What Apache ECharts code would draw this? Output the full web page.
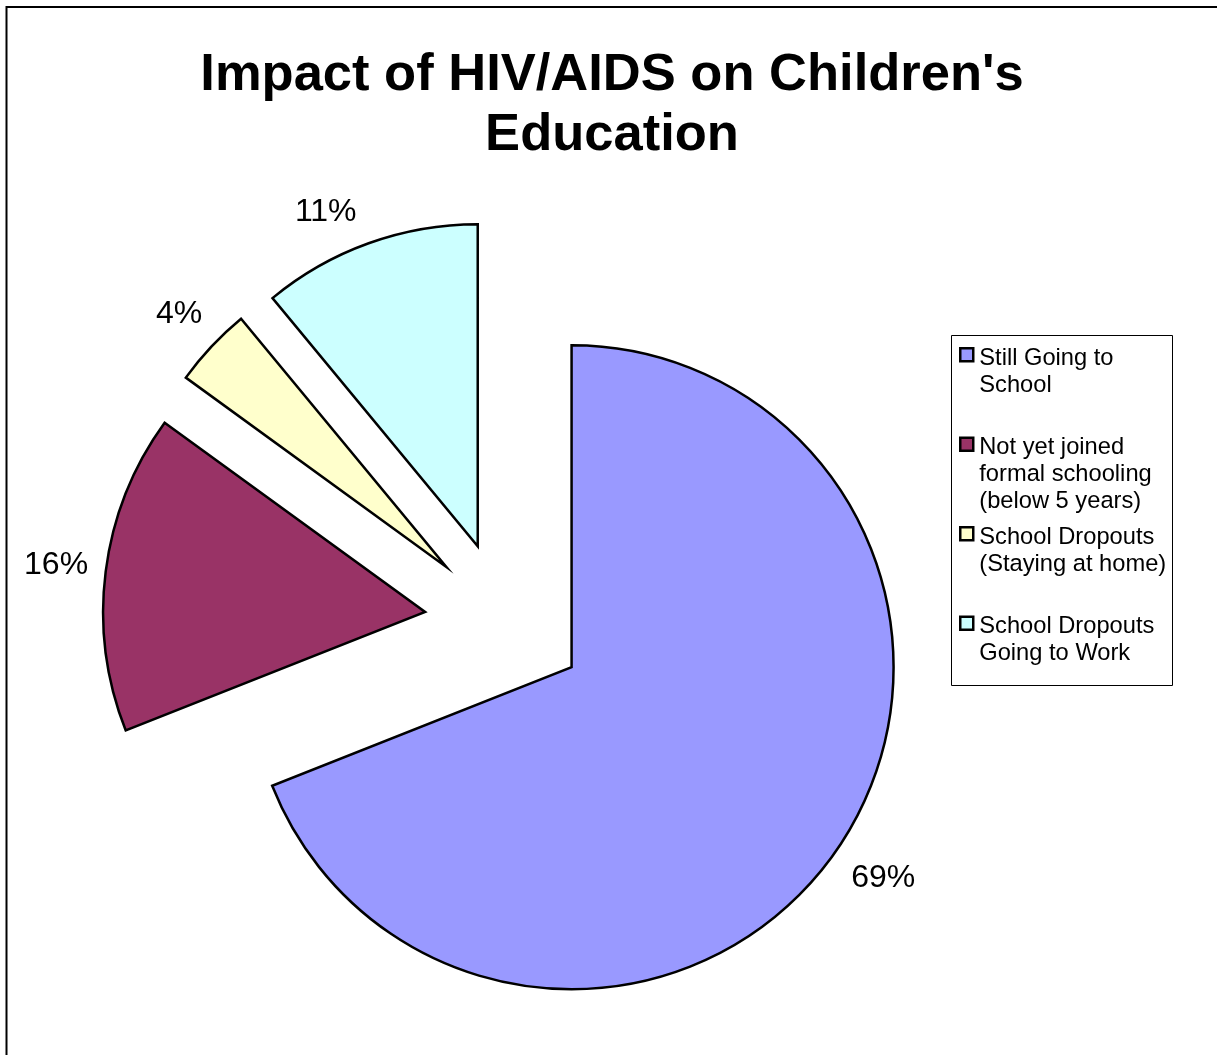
<!DOCTYPE html>
<html>
<head>
<meta charset="utf-8">
<script src="https://cdn.jsdelivr.net/npm/echarts@6/dist/echarts.min.js"></script>
<style>
html,body{margin:0;padding:0;background:#fff;}
#chart{width:1217px;height:1055px;}
</style>
</head>
<body>
<div id="chart"></div>
<script>
const titleText = "Impact of HIV/AIDS on Children's\nEducation";
const categories = [
  'Still Going to School',
  'Not yet joined formal schooling (below 5 years)',
  'School Dropouts (Staying at home)',
  'School Dropouts Going to Work'
];
const legendLabels = [
  'Still Going to\nSchool\n ',
  'Not yet joined\nformal schooling\n(below 5 years)',
  'School Dropouts\n(Staying at home)\n ',
  'School Dropouts\nGoing to Work\n '
];
const values = [69, 16, 4, 11];
const colors = ['#9999FF', '#993366', '#FFFFCC', '#CCFFFF'];

// small label nudges (styling only) to mimic the original label placement
const labelNudge = {0: [4, 2], 2: [4, 2], 3: [-26, 16]};

const FONT = '"Liberation Sans", Arial, sans-serif';
const chart = echarts.init(document.getElementById('chart'), null, {renderer: 'canvas'});

const pieData = categories.map((name, i) => ({
  name: name,
  value: values[i],
  selected: true,
  itemStyle: {color: colors[i]}
}));

const legendIcon = 'path://M0,0M16,81M2,3.5L15,3.5L15,16.5L2,16.5Z';

const option = {
  backgroundColor: '#fff',
  animation: false,
  title: {
    text: titleText,
    left: 612,
    top: 45,
    padding: 0,
    textAlign: 'center',
    textStyle: {fontFamily: FONT, fontSize: 52.5, fontWeight: 'bold', lineHeight: 60.6, color: '#000'}
  },
  legend: {
    orient: 'vertical',
    left: 957,
    top: 343.5,
    padding: 0,
    itemGap: 6,
    itemWidth: 16,
    itemHeight: 81,
    selectedMode: false,
    data: categories.map(n => ({name: n, icon: legendIcon})),
    formatter: function (name) { return legendLabels[categories.indexOf(name)]; },
    itemStyle: {borderColor: '#000', borderWidth: 2.5},
    textStyle: {fontFamily: FONT, fontSize: 23.7, lineHeight: 27, color: '#000'}
  },
  graphic: [
    {type: 'rect', silent: true, shape: {x: 6.5, y: 7, width: 1300, height: 1100},
     style: {fill: 'none', stroke: '#000', lineWidth: 2}},
    {type: 'rect', silent: true, shape: {x: 951.5, y: 335.5, width: 221, height: 350},
     style: {fill: 'none', stroke: '#000', lineWidth: 1}}
  ],
  series: [{
    type: 'pie',
    center: [505, 622],
    radius: 322,
    startAngle: 90,
    clockwise: true,
    selectedMode: 'multiple',
    selectedOffset: 80.5,
    avoidLabelOverlap: false,
    percentPrecision: 0,
    emphasis: {disabled: true, scale: false},
    itemStyle: {borderColor: '#000', borderWidth: 2.5, borderJoin: 'miter', borderMiterLimit: 20},
    select: {itemStyle: {borderColor: '#000', borderWidth: 2.5}},
    label: {
      show: true,
      position: 'outside',
      formatter: '{d}%',
      fontFamily: FONT,
      fontSize: 32,
      color: '#000',
      distanceToLabelLine: 0
    },
    labelLine: {show: false, length: 50, length2: 0},
    labelLayout: function (params) {
      const n = labelNudge[params.dataIndex] || [0, 0];
      return {align: 'center', verticalAlign: 'middle', dx: n[0], dy: n[1]};
    },
    data: pieData
  }]
};
chart.setOption(option);
</script>
</body>
</html>
